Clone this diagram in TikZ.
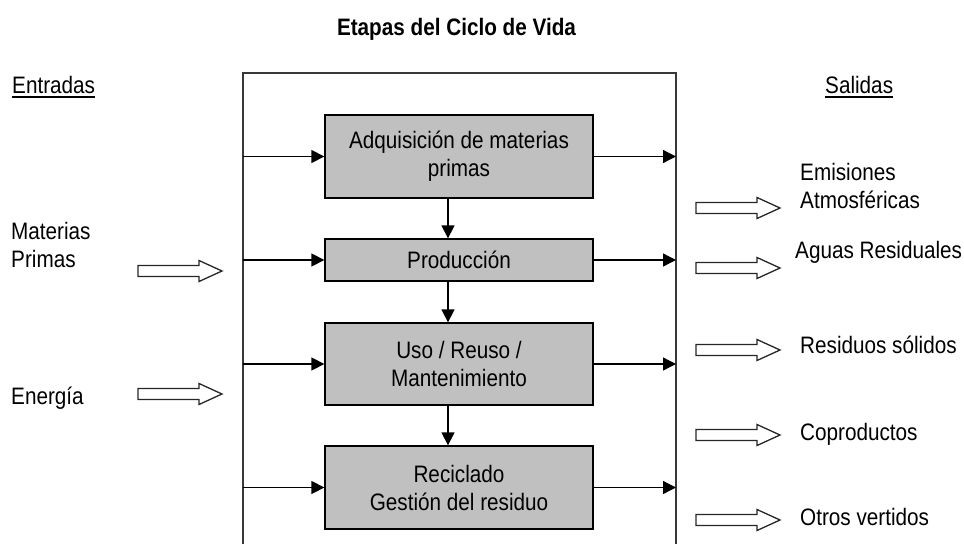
\documentclass[tikz,border=0pt]{standalone}
\usepackage{fontspec}
\setmainfont{Liberation Sans}[FakeStretch=0.87]
\usetikzlibrary{arrows.meta,calc}
\definecolor{boxgray}{HTML}{C0C0C0}
\definecolor{framegray}{HTML}{383838}
\newcommand\diafont{\fontsize{23.8}{28}\selectfont}
\begin{document}
\begin{tikzpicture}[x=1pt,y=-1pt,
  stage/.style={draw=black, line width=1.3pt, fill=boxgray, minimum width=268pt, inner sep=0pt, align=center, font=\diafont},
  flow/.style={-{Triangle[length=13pt,width=13pt]}, line width=1.3pt},
  lbl/.style={inner sep=0pt, anchor=base west, align=left, font=\diafont},
  framestyle/.style={line width=1.6pt, draw=framegray},
  hollow/.pic={\draw[line width=1.3pt, draw=black!85, line join=miter] (0,-5.5) -- (61,-5.5) -- (61,-10.5) -- (84,0) -- (61,10.5) -- (61,5.5) -- (0,5.5) -- cycle;}
]
\useasboundingbox (0,0) rectangle (964,544);
% title and headers
\node[font=\diafont\bfseries, inner sep=0pt, anchor=base] (title) at (456.5,35) {Etapas del Ciclo de Vida};
\node[lbl] (ent) at (12,93) {Entradas};
\draw[line width=2pt] ($(ent.base west)+(0,4)$) -- ($(ent.base east)+(0,4)$);
\node[lbl] (sal) at (825,93) {Salidas};
\draw[line width=2pt] ($(sal.base west)+(0,4)$) -- ($(sal.base east)+(0,4)$);
% frame
\coordinate (fbl) at (243,544);
\coordinate (ftl) at (243,73);
\coordinate (ftr) at (676,73);
\coordinate (fbr) at (676,544);
\draw[framestyle] (fbl) -- (ftl) -- (ftr) -- (fbr);
% stages
\node[stage, minimum height=83pt] (b1) at (459,156.5) {Adquisición de materias\\primas};
\node[stage, minimum height=42pt] (b2) at (459,260) {Producción};
\node[stage, minimum height=82pt] (b3) at (459,364) {Uso / Reuso /\\Mantenimiento};
\node[stage, minimum height=83pt] (b4) at (459,487.5) {Reciclado\\Gestión del residuo};
% vertical flow
\coordinate (ax) at (448,0);
\draw[flow] (b1.south -| ax) -- (b2.north -| ax);
\draw[flow] (b2.south -| ax) -- (b3.north -| ax);
\draw[flow] (b3.south -| ax) -- (b4.north -| ax);
% inputs / outputs per stage
\foreach \b in {b1,b2,b3,b4}{
  \draw[flow] (\b.west -| ftl) -- (\b.west);
  \draw[flow] (\b.east) -- (\b.east -| ftr);
}
% left labels and hollow arrows
\node[lbl] (mp) at (11,267) {Materias\\Primas};
\node[lbl] (en) at (11,404) {Energía};
\pic at (138,271) {hollow};
\pic at (138,394) {hollow};
% right labels and hollow arrows
\pic at (696,208) {hollow};
\pic at (696,268) {hollow};
\pic at (696,350) {hollow};
\pic at (696,435) {hollow};
\pic at (696,520) {hollow};
\node[lbl] (em) at (800,208) {Emisiones\\Atmosféricas};
\node[lbl] (ag) at (795,258) {Aguas Residuales};
\node[lbl] (rs) at (800,353) {Residuos sólidos};
\node[lbl] (co) at (800,440) {Coproductos};
\node[lbl] (ot) at (800,525) {Otros vertidos};
\end{tikzpicture}
\end{document}
